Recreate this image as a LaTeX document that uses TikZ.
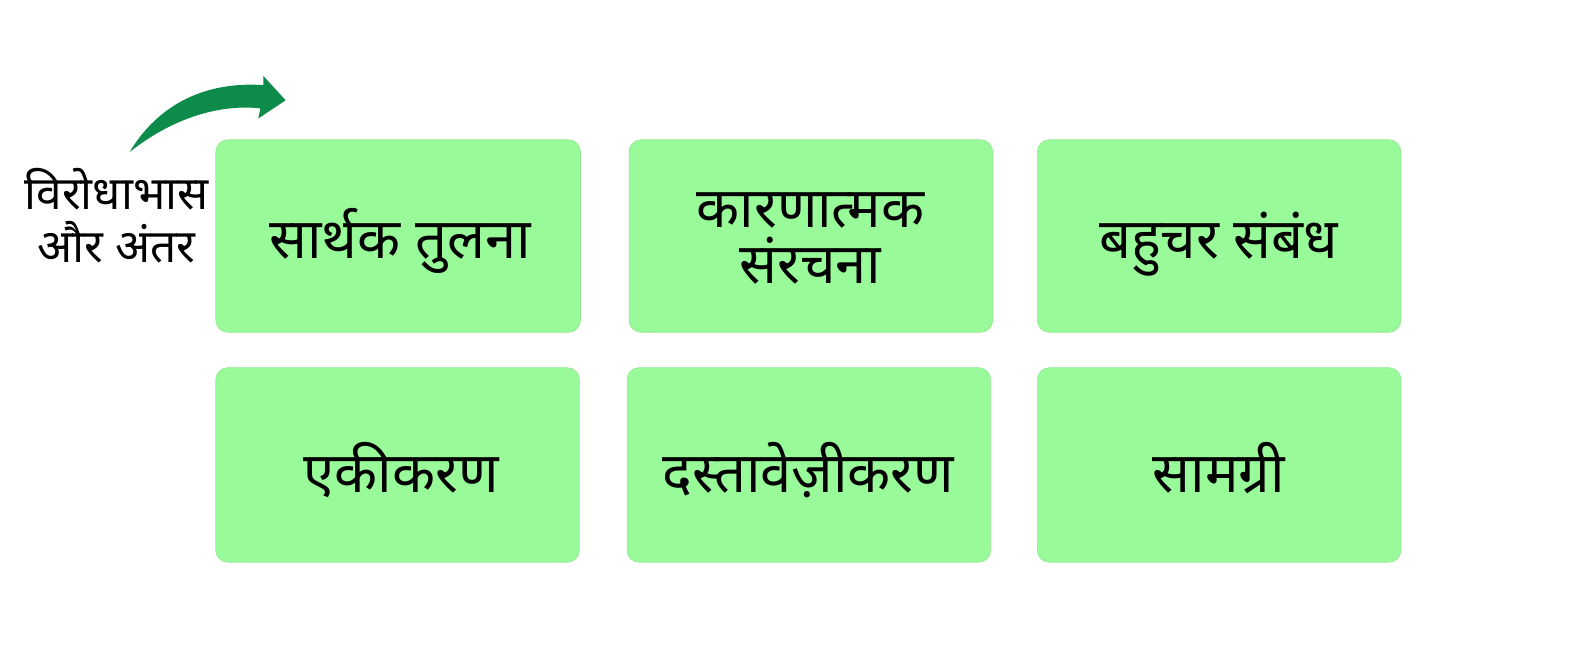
\documentclass[tikz,border=0pt]{standalone}
\usepackage{fontspec}
\newfontfamily\deva[Script=Devanagari]{Noto Sans}
\definecolor{boxgreen}{HTML}{98FA98}
\definecolor{arrowgreen}{HTML}{0C8B4A}
\tikzset{
  card/.style={fill=boxgreen, draw=boxgreen!85!gray, line width=0.6pt, rounded corners=12pt},
  cardtext/.style={font=\deva\fontsize{56}{60}\selectfont, text=black, anchor=base, inner sep=0pt},
  sidetext/.style={font=\deva\fontsize{46}{52}\selectfont, text=black, anchor=base, inner sep=0pt}
}
\begin{document}
\begin{tikzpicture}[x=1pt,y=-1pt]
\useasboundingbox[fill=white] (0,0) rectangle (1588,672);
\begin{scope}[scale=1.013]
% cards
\draw[card] (213,138) rectangle (573,328);
\draw[card] (621,138) rectangle (980,328);
\draw[card] (1024,138) rectangle (1383,328);
\draw[card] (213,363) rectangle (572,555);
\draw[card] (619,363) rectangle (978,555);
\draw[card] (1024,363) rectangle (1383,555);
\node[cardtext] (c1) at (395,255) {सार्थक तुलना};
\node[cardtext] (c2a) at (800,225) {कारणात्मक};
\node[cardtext] (c2b) at (800,280) {संरचना};
\node[cardtext] (c3) at (1203,255) {बहुचर संबंध};
\node[cardtext] (c4) at (396,486) {एकीकरण};
\node[cardtext] (c5) at (798,486) {दस्तावेज़ीकरण};
\node[cardtext] (c6) at (1203,486) {सामग्री};
\node[sidetext] (sidea) at (115,207) {विरोधाभास};
\node[sidetext] (sideb) at (115,259) {और अंतर};
% curved arrow
\fill[arrowgreen] (128,150)
  .. controls (155,105) and (200,80) .. (260,84)
  -- (260,75) -- (282,99) -- (255,117) -- (257,107)
  .. controls (222,103) and (175,113) .. (128,150) -- cycle;
\end{scope}
\end{tikzpicture}
\end{document}
